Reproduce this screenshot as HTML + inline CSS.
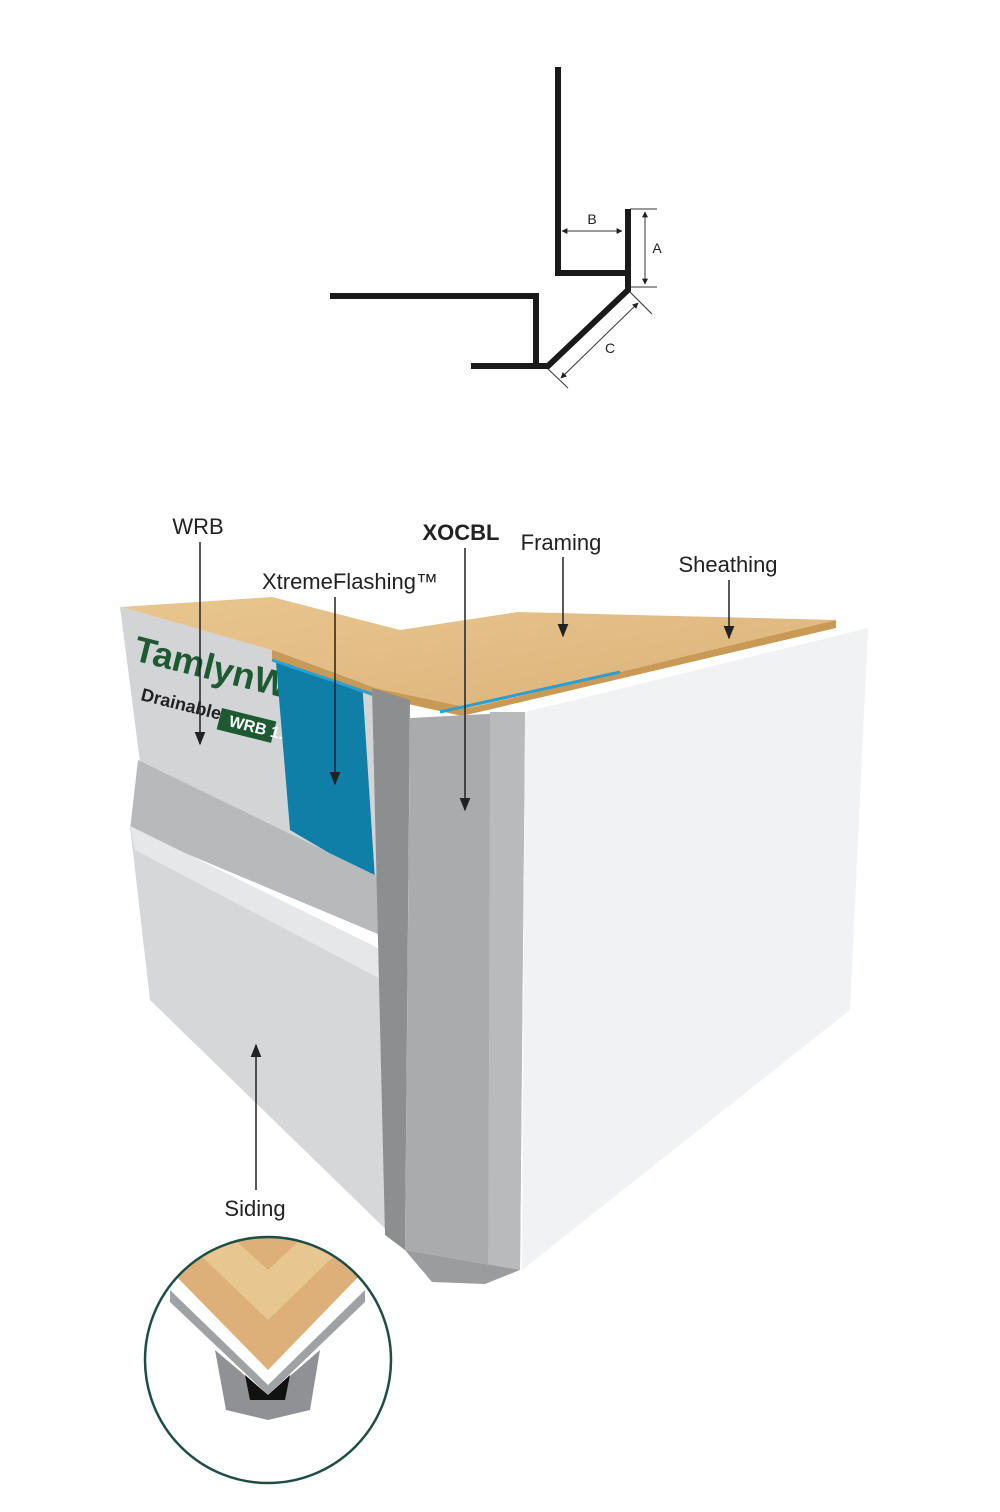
<!DOCTYPE html>
<html><head><meta charset="utf-8"><style>
html,body{margin:0;padding:0;background:#fff}
svg{display:block}
text{font-family:"Liberation Sans",sans-serif;fill:#222}
</style></head><body>
<svg width="1000" height="1512" viewBox="0 0 1000 1512" xmlns="http://www.w3.org/2000/svg">
<defs>
<marker id="ah" viewBox="0 0 10 10" refX="9" refY="5" markerWidth="6" markerHeight="6" orient="auto-start-reverse"><path d="M0,0L10,5L0,10z" fill="#222"/></marker>
<marker id="ah2" viewBox="0 0 10 10" refX="9" refY="5" markerWidth="9" markerHeight="9" orient="auto-start-reverse"><path d="M0,1L10,5L0,9z" fill="#222"/></marker>
<linearGradient id="wood" x1="0" y1="0" x2="1" y2="1"><stop offset="0" stop-color="#e9c68f"/><stop offset="1" stop-color="#dcb27a"/></linearGradient>
<clipPath id="cc"><circle cx="268" cy="1360" r="123"/></clipPath>
<clipPath id="wc"><polygon points="120,607 275,598 290,660 375,685 380,880 140,762"/></clipPath>
</defs>
<!-- profile -->
<g fill="none" stroke="#1a1a1a" stroke-width="6" stroke-linejoin="miter">
<polyline points="558,67 558,273 628,273 628,209"/>
<polyline points="628,273 628,290 548,366 471,366"/>
<polyline points="330,296 536,296 536,366"/>
</g>
<g stroke="#333" stroke-width="1" fill="none">
<line x1="630" y1="209" x2="657" y2="209"/><line x1="630" y1="287" x2="657" y2="287"/>
<line x1="645" y1="212" x2="645" y2="284" marker-start="url(#ah)" marker-end="url(#ah)"/>
<line x1="562" y1="231" x2="622" y2="231" marker-start="url(#ah)" marker-end="url(#ah)"/>
<line x1="630" y1="292" x2="652" y2="314"/><line x1="548" y1="369" x2="568" y2="388"/>
<line x1="638" y1="303" x2="561" y2="378" marker-start="url(#ah)" marker-end="url(#ah)"/>
</g>
<text x="592" y="224" font-size="14" text-anchor="middle">B</text>
<text x="657" y="253" font-size="14" text-anchor="middle">A</text>
<text x="610" y="353" font-size="14" text-anchor="middle">C</text>

<!-- 3D illustration -->
<polygon points="120,607 275,598 290,660 375,685 380,880 140,762" fill="#d3d4d6"/>
<g clip-path="url(#wc)">
<text x="132" y="660" font-size="36" font-weight="bold" transform="rotate(14 132 660)" style="fill:#1d5a32" font-family="Liberation Serif">TamlynWrap</text>
<text x="140" y="700" font-size="18" font-weight="bold" transform="rotate(14 140 700)" style="fill:#222">Drainable</text>
<rect x="222" y="708" width="56" height="22" fill="#1d5a32" transform="rotate(14 222 708)"/>
<text x="228" y="726" font-size="16" font-weight="bold" transform="rotate(14 228 726)" style="fill:#fff">WRB 1.5</text>
</g>
<polygon points="275,650 362,680 375,880 290,830" fill="#0f7fa8"/>
<polygon points="122,607 272,597 400,630 518,612 836,620 470,708 375,688 272,650" fill="url(#wood)"/>
<polygon points="272,650 375,688 470,708 836,620 836,628 462,716 372,696 272,660" fill="#c99a55"/>
<line x1="272" y1="660" x2="372" y2="694" stroke="#2a9fd0" stroke-width="3"/>
<line x1="440" y1="712" x2="620" y2="672" stroke="#2a9fd0" stroke-width="3"/>
<polygon points="138,760 385,880 392,940 130,830" fill="#b8b9bb"/>
<polygon points="130,826 392,955 405,1248 150,1000" fill="#d6d7d9"/>
<polygon points="130,826 392,955 392,985 135,850" fill="#e6e7e8"/>
<polygon points="372,688 410,700 405,1250 385,1235" fill="#8c8e90"/>
<polygon points="410,718 525,712 520,1270 405,1250" fill="#a9abad"/>
<polygon points="490,712 525,712 520,1270 488,1272" fill="#b9babc"/>
<polygon points="405,1250 520,1270 485,1284 432,1282" fill="#9a9c9e"/>
<polygon points="525,712 868,628 850,1010 522,1270" fill="#f1f2f3"/>

<g font-size="22">
<text x="198" y="534" text-anchor="middle">WRB</text>
<text x="350" y="589" text-anchor="middle">XtremeFlashing™</text>
<text x="461" y="540" text-anchor="middle" font-weight="bold">XOCBL</text>
<text x="561" y="550" text-anchor="middle">Framing</text>
<text x="728" y="572" text-anchor="middle">Sheathing</text>
<text x="255" y="1216" text-anchor="middle">Siding</text>
</g>
<g stroke="#222" stroke-width="1.5">
<line x1="200" y1="542" x2="200" y2="744" marker-end="url(#ah2)"/>
<line x1="335" y1="597" x2="335" y2="784" marker-end="url(#ah2)"/>
<line x1="465" y1="548" x2="465" y2="810" marker-end="url(#ah2)"/>
<line x1="563" y1="557" x2="563" y2="636" marker-end="url(#ah2)"/>
<line x1="729" y1="580" x2="729" y2="638" marker-end="url(#ah2)"/>
<line x1="256" y1="1190" x2="256" y2="1045" marker-end="url(#ah2)"/>
</g>

<g clip-path="url(#cc)">
<rect x="140" y="1230" width="260" height="260" fill="#fff"/>
<polygon points="170,1270 268,1370 365,1270 365,1238 170,1238" fill="#ddb07a"/>
<polygon points="195,1250 268,1320 340,1250 300,1240 268,1270 235,1240" fill="#e8c690"/>
<polygon points="170,1290 268,1385 365,1290 365,1302 268,1395 170,1302" fill="#9fa2a5"/>
<polygon points="215,1350 268,1395 320,1350 310,1410 268,1420 226,1410" fill="#8f9194"/>
<polygon points="245,1375 268,1395 290,1375 285,1400 250,1400" fill="#111"/>
</g>
<circle cx="268" cy="1360" r="123" fill="none" stroke="#1d4d44" stroke-width="2.5"/>
</svg>
</body></html>
